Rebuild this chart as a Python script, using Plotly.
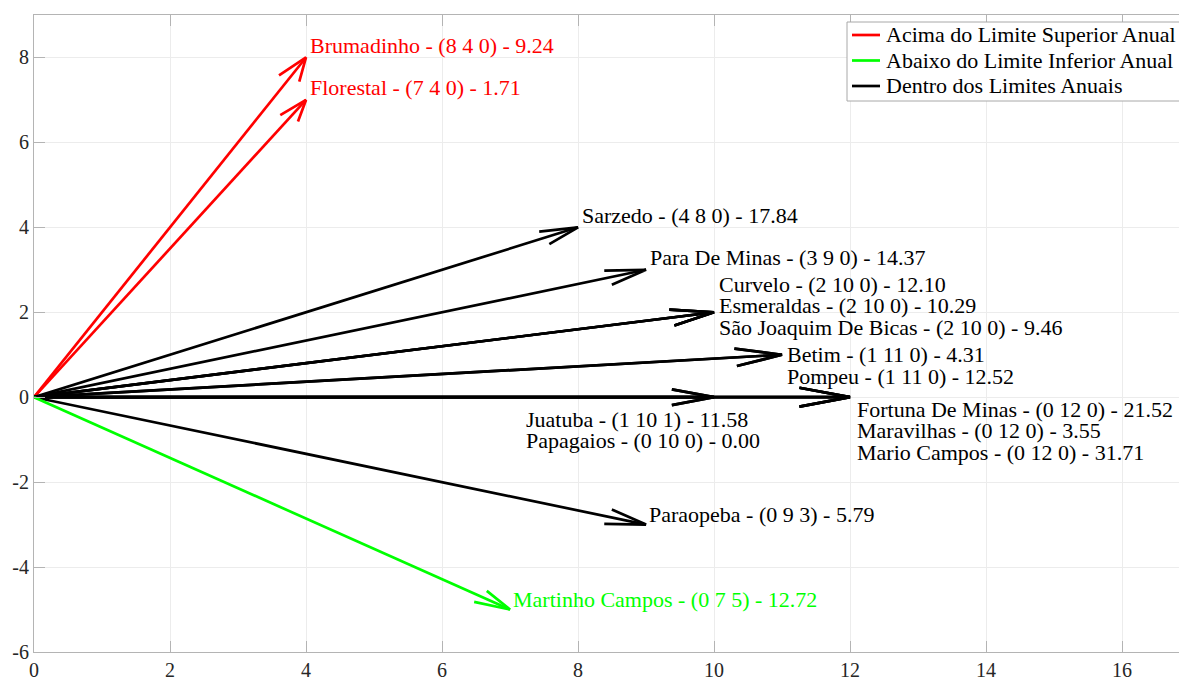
import plotly.graph_objects as go

# ---------------- data ----------------
cities = ["Brumadinho", "Florestal", "Sarzedo", "Para De Minas", "Curvelo",
          "Esmeraldas", "São Joaquim De Bicas", "Betim", "Pompeu",
          "Fortuna De Minas", "Maravilhas", "Mario Campos", "Juatuba",
          "Papagaios", "Paraopeba", "Martinho Campos"]
acima = [8, 7, 4, 3, 2, 2, 2, 1, 1, 0, 0, 0, 1, 0, 0, 0]
dentro = [4, 4, 8, 9, 10, 10, 10, 11, 11, 12, 12, 12, 10, 10, 9, 7]
abaixo = [0, 0, 0, 0, 0, 0, 0, 0, 0, 0, 0, 0, 1, 0, 3, 5]
indice = [9.24, 1.71, 17.84, 14.37, 12.10, 10.29, 9.46, 4.31, 12.52,
          21.52, 3.55, 31.71, 11.58, 0.00, 5.79, 12.72]
categoria = ["acima", "acima", "dentro", "dentro", "dentro", "dentro", "dentro",
             "dentro", "dentro", "dentro", "dentro", "dentro", "dentro", "dentro",
             "dentro", "abaixo"]
legend_order = ["acima", "abaixo", "dentro"]
legend_names = {"acima": "Acima do Limite Superior Anual",
                "abaixo": "Abaixo do Limite Inferior Anual",
                "dentro": "Dentro dos Limites Anuais"}
x_ticks = [0, 2, 4, 6, 8, 10, 12, 14, 16]
y_ticks = [-6, -4, -2, 0, 2, 4, 6, 8]

# ---------------- styles ----------------
W, H = 1179, 677
ML, MR, MT, MB = 34, 0, 15, 25
colors = {"acima": "#ff0000", "abaixo": "#00ff00", "dentro": "#000000"}
FONT = "Liberation Serif"
HEAD_ALPHA, HEAD_BETA = 0.062, 0.3
LINE_STEP = 21.5
# label placement per arrow tip: (x override in data or None, xshift px, first yshift px)
default_place = (None, 2, 12)
label_place = {(10, 2): (None, 3, 28), (11, 1): (None, 3, 0),
               (12, 0): (None, 5, -12), (10, 0): (7.2, 0, -22),
               (9, -3): (None, 1, 10), (7, -5): (None, 1, 10)}


def px_to_paper_x(px):
    return (px - ML) / (W - ML - MR)


def px_to_paper_y(py):
    return (H - MB - py) / (H - MT - MB)


fig = go.Figure()
annotations = []
shapes = []
stack_count = {}
for name, a, d, b, val, cat in zip(cities, acima, dentro, abaixo, indice, categoria):
    u = d
    v = a - b
    b1x = u - HEAD_ALPHA * (u + HEAD_BETA * v)
    b1y = v - HEAD_ALPHA * (v - HEAD_BETA * u)
    b2x = u - HEAD_ALPHA * (u - HEAD_BETA * v)
    b2y = v - HEAD_ALPHA * (v + HEAD_BETA * u)
    fig.add_trace(go.Scatter(
        x=[0, u, None, b1x, u, b2x], y=[0, v, None, b1y, v, b2y],
        mode="lines", line=dict(color=colors[cat], width=2.7),
        name=f"{name} ({legend_names[cat]})", showlegend=False, hoverinfo="skip"))
    key = (u, v)
    i = stack_count.get(key, 0)
    stack_count[key] = i + 1
    xo, xs, ys = label_place.get(key, default_place)
    annotations.append(dict(
        x=u if xo is None else xo, y=v, xref="x", yref="y",
        text=f"{name} - ({a} {d} {b}) - {val:.2f}", showarrow=False,
        xanchor="left", yanchor="middle", xshift=xs, yshift=ys - LINE_STEP * i,
        font=dict(family=FONT, size=22, color=colors[cat])))

# ---------------- legend (drawn as box + line samples + text) ----------------
LEG_LEFT, LEG_TOP, LEG_BOTTOM = 847, 22, 101
LEG_ROW0, LEG_ROW_STEP = 35, 25.5
shapes.append(dict(type="rect", xref="paper", yref="paper", layer="above",
                   x0=px_to_paper_x(LEG_LEFT), x1=px_to_paper_x(W + 20),
                   y0=px_to_paper_y(LEG_BOTTOM), y1=px_to_paper_y(LEG_TOP),
                   fillcolor="white", line=dict(color="#a8a8a8", width=1)))
for k, cat in enumerate(legend_order):
    ry = px_to_paper_y(LEG_ROW0 + LEG_ROW_STEP * k)
    shapes.append(dict(type="line", xref="paper", yref="paper", layer="above",
                       x0=px_to_paper_x(LEG_LEFT + 5), x1=px_to_paper_x(LEG_LEFT + 33),
                       y0=ry, y1=ry, line=dict(color=colors[cat], width=2.7)))
    annotations.append(dict(x=px_to_paper_x(LEG_LEFT + 37), y=ry, xref="paper", yref="paper",
                            text=legend_names[cat], showarrow=False,
                            xanchor="left", yanchor="middle",
                            font=dict(family=FONT, size=22, color="#000000")))

axis_common = dict(showgrid=True, gridcolor="#ececec", gridwidth=1,
                   zeroline=False, showline=True, linecolor="#b4b4b4", linewidth=1,
                   ticks="inside", ticklen=11, tickcolor="#b4b4b4", tickwidth=1,
                   tickfont=dict(family=FONT, size=20, color="#262626"))

fig.update_layout(
    width=W, height=H,
    margin=dict(l=ML, r=MR, t=MT, b=MB, autoexpand=False),
    paper_bgcolor="white", plot_bgcolor="white",
    annotations=annotations, shapes=shapes,
    xaxis=dict(range=[0, (W - ML - MR) / 68.0], tickvals=x_ticks,
               ticktext=[str(t) for t in x_ticks], mirror="ticks", **axis_common),
    yaxis=dict(range=[-6, 9], tickvals=y_ticks, ticktext=[str(t) for t in y_ticks],
               mirror=False, **axis_common),
    showlegend=False,
)

fig.write_html("out.html", config={"displayModeBar": False})

# remove default page margin so the figure sits at the window's top-left corner
with open("out.html", "r", encoding="utf-8") as f:
    html = f.read()
html = html.replace("<body>", '<body style="margin:0;padding:0;overflow:hidden">', 1)
with open("out.html", "w", encoding="utf-8") as f:
    f.write(html)
